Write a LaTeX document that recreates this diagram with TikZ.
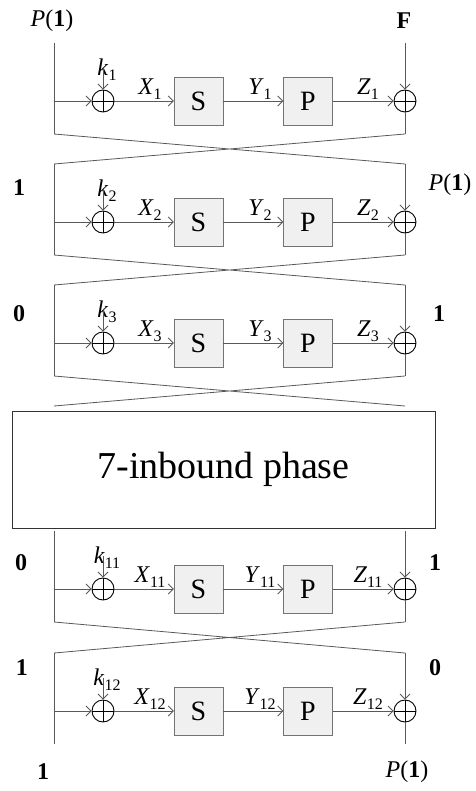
\documentclass[tikz,border=0pt]{standalone}
\usepackage{fontspec}
\setmainfont{Liberation Serif}
\usetikzlibrary{arrows.meta}
\tikzset{
  wire/.style={draw=black!65, line width=0.8pt},
  arr/.style={wire, -{Straight Barb[length=5pt,width=10pt]}},
  xor/.style={circle, draw, line width=0.9pt, minimum size=22pt, inner sep=0pt,
    path picture={\draw[line width=0.9pt] (path picture bounding box.north) -- (path picture bounding box.south)
      (path picture bounding box.west) -- (path picture bounding box.east);}},
  fbox/.style={draw=black!55, fill=black!6, minimum width=49pt, minimum height=48pt, inner sep=0pt,
    font=\fontsize{28}{30}\selectfont},
  lab/.style={font=\fontsize{24}{26}\selectfont, inner sep=0pt},
}
\newcommand{\vsub}[2]{\textit{#1}\raisebox{-0.45ex}{\fontsize{16}{16}\selectfont #2}}
\begin{document}
\begin{tikzpicture}[x=1pt,y=-1pt]
\useasboundingbox (0,0) rectangle (475,791);
% one row per round
\foreach \i/\y in {1/101,2/222,3/343,11/589,12/711}{
  \coordinate (lt\i) at (54,\y-58);
  \coordinate (lm\i) at (54,\y);
  \coordinate (lb\i) at (54,\y+33);
  \coordinate (rt\i) at (405,\y-58);
  \coordinate (rb\i) at (405,\y+33);
  \coordinate (kt\i) at (103,\y-33);
  \node[xor] (xl\i) at (103,\y) {};
  \node[fbox] (s\i) at (198.5,\y) {S};
  \node[fbox] (p\i) at (308,\y) {P};
  \node[xor] (xr\i) at (405,\y) {};
  \node[lab] (k\i) at (107,\y-31) {\vsub{k}{\i}};
  \node[lab] (x\i) at (150,\y-12) {\vsub{X}{\i}};
  \node[lab] (y\i) at (260,\y-12) {\vsub{Y}{\i}};
  \node[lab] (z\i) at (368,\y-12) {\vsub{Z}{\i}};
  \draw[wire] (lt\i) -- (lb\i);
  \draw[arr] (lm\i) -- (xl\i);
  \draw[arr] (kt\i) -- (xl\i);
  \draw[arr] (xl\i) -- (s\i);
  \draw[arr] (s\i) -- (p\i);
  \draw[arr] (p\i) -- (xr\i);
  \draw[arr] (rt\i) -- (xr\i);
  \draw[wire] (xr\i) -- (rb\i);
}
% swaps between rounds
\coordinate (cl) at (54,406);
\coordinate (cr) at (405,406);
\draw[wire] (lb1) -- (rt2) (rb1) -- (lt2);
\draw[wire] (lb2) -- (rt3) (rb2) -- (lt3);
\draw[wire] (lb3) -- (cr) (rb3) -- (cl);
\draw[wire] (lb11) -- (rt12) (rb11) -- (lt12);
\node[draw=black!80, line width=0.8pt, minimum width=423pt, minimum height=117pt,
  font=\fontsize{38}{44}\selectfont] (inb) at (223.5,469.5) {7-inbound phase};
% values on the branches
\node[lab] (pin) at (52,21) {\textit{P}(\textbf{1})};
\node[lab] (fin) at (404,21) {\textbf{F}};
\node[lab] (a2) at (19,188) {\textbf{1}};
\node[lab] (b2) at (450,185) {\textit{P}(\textbf{1})};
\node[lab] (a3) at (19,314) {\textbf{0}};
\node[lab] (b3) at (439,314) {\textbf{1}};
\node[lab] (a11) at (21,563) {\textbf{0}};
\node[lab] (b11) at (435,563) {\textbf{1}};
\node[lab] (a12) at (22,668) {\textbf{1}};
\node[lab] (b12) at (435,668) {\textbf{0}};
\node[lab] (aout) at (43,772) {\textbf{1}};
\node[lab] (bout) at (407,772) {\textit{P}(\textbf{1})};
\end{tikzpicture}
\end{document}
